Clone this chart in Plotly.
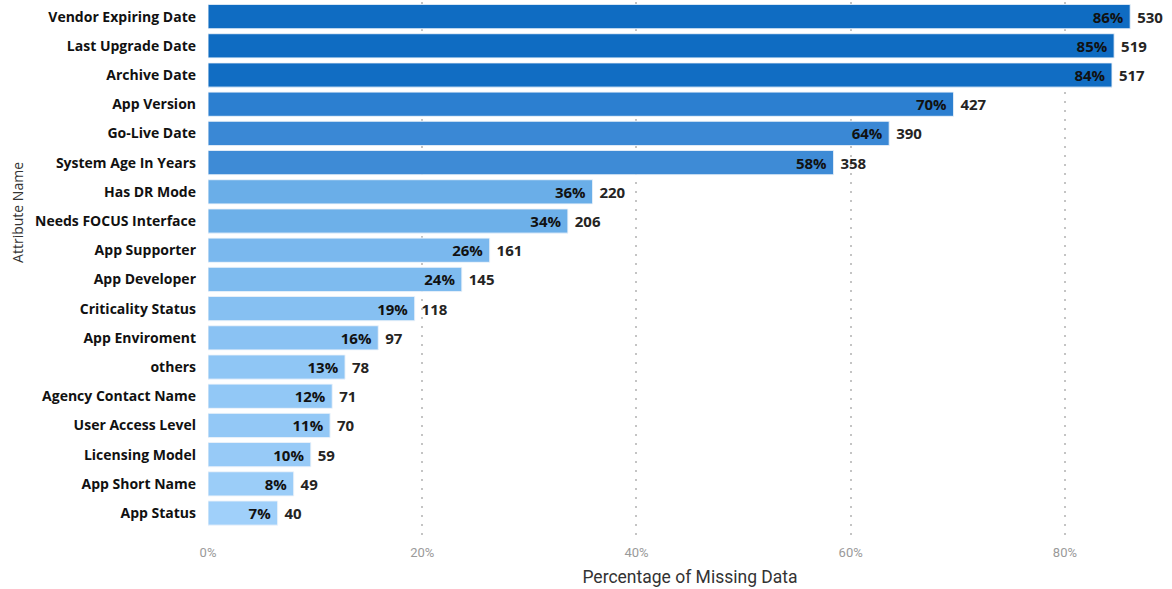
import plotly.graph_objects as go

categories = ["Vendor Expiring Date", "Last Upgrade Date", "Archive Date", "App Version",
              "Go-Live Date", "System Age In Years", "Has DR Mode", "Needs FOCUS Interface",
              "App Supporter", "App Developer", "Criticality Status", "App Enviroment",
              "others", "Agency Contact Name", "User Access Level", "Licensing Model",
              "App Short Name", "App Status"]
pct_values = [0.861, 0.846, 0.844, 0.696, 0.636, 0.584, 0.359, 0.336, 0.263, 0.237,
              0.193, 0.159, 0.128, 0.116, 0.114, 0.096, 0.080, 0.065]
pct_labels = ["86%", "85%", "84%", "70%", "64%", "58%", "36%", "34%", "26%", "24%",
              "19%", "16%", "13%", "12%", "11%", "10%", "8%", "7%"]
missing_counts = [530, 519, 517, 427, 390, 358, 220, 206, 161, 145, 118, 97, 78, 71, 70, 59, 49, 40]

bar_colors = ["#0F6CC2", "#0F6CC2", "#116DC3", "#2C7FD0", "#3A88D5", "#3E8BD6",
              "#6AAEE8", "#6DB0E9", "#7AB8EE", "#7EBBEF", "#86C0F2", "#8AC2F3",
              "#8FC6F5", "#92C8F6", "#93C8F6", "#97CAF7", "#9BCDF8", "#A0D0FA"]

fig = go.Figure()
fig.add_trace(go.Bar(
    y=categories, x=pct_values, orientation="h",
    marker=dict(color=bar_colors, line=dict(color="rgba(255,255,255,0.6)", width=1)),
    text=pct_labels, texttemplate="%{text} ", textposition="inside", insidetextanchor="end",
    textfont=dict(family="Open Sans", size=15, color="#111111", weight="bold"),
    textangle=0, constraintext="none", hoverinfo="skip", showlegend=False,
))
fig.add_trace(go.Bar(
    y=categories, x=pct_values, orientation="h",
    marker=dict(color="rgba(0,0,0,0)"),
    text=missing_counts, texttemplate=" %{text}", textposition="outside",
    textfont=dict(family="Open Sans", size=15, color="#252423", weight="bold"),
    textangle=0, constraintext="none", cliponaxis=False, hoverinfo="skip", showlegend=False,
))

fig.add_annotation(
    text="Attribute Name", textangle=-90, showarrow=False,
    xref="paper", yref="paper", x=-0.197, y=0.606, xanchor="center", yanchor="middle",
    font=dict(family="Open Sans", size=14, color="#333333"),
)

fig.update_layout(
    width=1172, height=589,
    barmode="overlay", bargap=0.17,
    plot_bgcolor="white", paper_bgcolor="white",
    margin=dict(l=208, r=0, t=2, b=52, autoexpand=False),
    uniformtext=dict(mode=False),
    xaxis=dict(
        range=[0, 0.9], tickvals=[0, 0.2, 0.4, 0.6, 0.8], tickformat=".0%",
        automargin=False,
        showgrid=True, gridcolor="#C4C4C4", griddash="2px,7px", gridwidth=2,
        zeroline=False, showline=False, ticklabelstandoff=6,
        tickfont=dict(family="Roboto", size=13, color="#9A9A9A"),
        title=dict(text="Percentage of Missing Data", standoff=11,
                   font=dict(family="Roboto", size=17.5, color="#333333")),
    ),
    yaxis=dict(
        categoryorder="array", categoryarray=categories, automargin=False,
        range=[17.82, -0.5], showgrid=False, zeroline=False, showline=False,
        ticks="", ticklabelstandoff=11,
        tickfont=dict(family="Open Sans", size=14, color="#111111", weight="bold"),
    ),
)

fig.write_html("out.html", config={"displayModeBar": False},
               post_script="document.body.style.margin='0';")
